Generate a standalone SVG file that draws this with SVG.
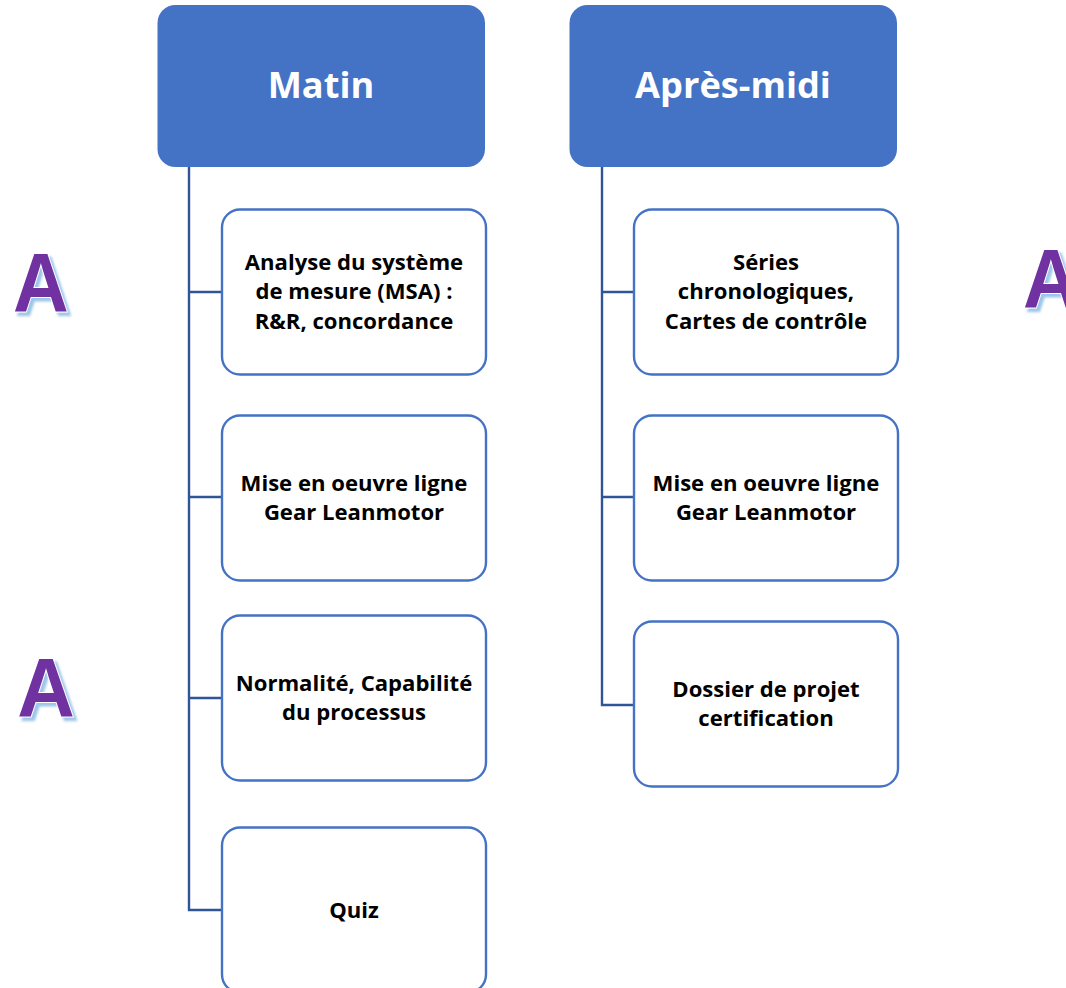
<svg xmlns="http://www.w3.org/2000/svg" width="1066" height="988" viewBox="0 0 1066 988">
<style>
text{font-family:"Open Sans","Noto Sans","Liberation Sans",sans-serif;font-weight:700;text-anchor:middle}
.head rect{fill:#4472c4}
.head text{fill:#fff;font-size:36.2px}
.box rect{fill:#fff;stroke:#4472c4;stroke-width:2.4}
.box text{fill:#000;font-size:22.1px}
.conn{fill:none;stroke:#2f5597;stroke-width:2.4}
.bigA{font-family:"Liberation Sans",sans-serif;font-size:83px;fill:#7030a0;stroke:#fff;stroke-width:2;paint-order:stroke;filter:url(#glow)}
</style>
<defs><filter id="glow" x="-30%" y="-30%" width="160%" height="160%"><feDropShadow dx="3.500" dy="3.500" stdDeviation="1" flood-color="#9cc6e8"/></filter></defs>
<rect width="1066" height="988" fill="#fff"/>
<g id="connectors">
<path class="conn" d="M189 167V910H222M189 292H222M189 497H222M189 698H222"/>
<path class="conn" d="M602 167V705H634M602 292H634M602 497H634"/>
</g>
<g id="matin" class="head"><rect x="157.500" y="5" width="327.500" height="162" rx="18"/><text x="321" y="98">Matin</text></g>
<g id="apres-midi" class="head"><rect x="569.500" y="5" width="327.500" height="162" rx="18"/><text x="733" y="98">Après-midi</text></g>
<g id="m1" class="box"><rect x="222" y="209.500" width="264" height="165" rx="18"/><text x="354" y="269.500">Analyse du système</text><text x="354" y="299">de mesure (MSA) :</text><text x="354" y="328.500">R&amp;R, concordance</text></g>
<g id="m2" class="box"><rect x="222" y="415.500" width="264" height="165" rx="18"/><text x="354" y="490.500">Mise en oeuvre ligne</text><text x="354" y="520">Gear Leanmotor</text></g>
<g id="m3" class="box"><rect x="222" y="615.500" width="264" height="165" rx="18"/><text x="354" y="690.500">Normalité, Capabilité</text><text x="354" y="720">du processus</text></g>
<g id="m4" class="box"><rect x="222" y="827.500" width="264" height="165" rx="18"/><text x="354" y="917.500">Quiz</text></g>
<g id="a1" class="box"><rect x="634" y="209.500" width="264" height="165" rx="18"/><text x="766" y="269.500">Séries</text><text x="766" y="299">chronologiques,</text><text x="766" y="328.500">Cartes de contrôle</text></g>
<g id="a2" class="box"><rect x="634" y="415.500" width="264" height="165" rx="18"/><text x="766" y="490.500">Mise en oeuvre ligne</text><text x="766" y="520">Gear Leanmotor</text></g>
<g id="a3" class="box"><rect x="634" y="621.500" width="264" height="165" rx="18"/><text x="766" y="696.500">Dossier de projet</text><text x="766" y="726">certification</text></g>
<g id="letter-a1"><text class="bigA" x="41" y="312" transform="translate(41 0) scale(.93 1) translate(-41 0)">A</text></g>
<g id="letter-a2"><text class="bigA" x="46" y="717" transform="translate(46 0) scale(.96 1) translate(-46 0)">A</text></g>
<g id="letter-a3"><text class="bigA" x="1051" y="308" transform="translate(1051 0) scale(.93 1) translate(-1051 0)">A</text></g>
</svg>
